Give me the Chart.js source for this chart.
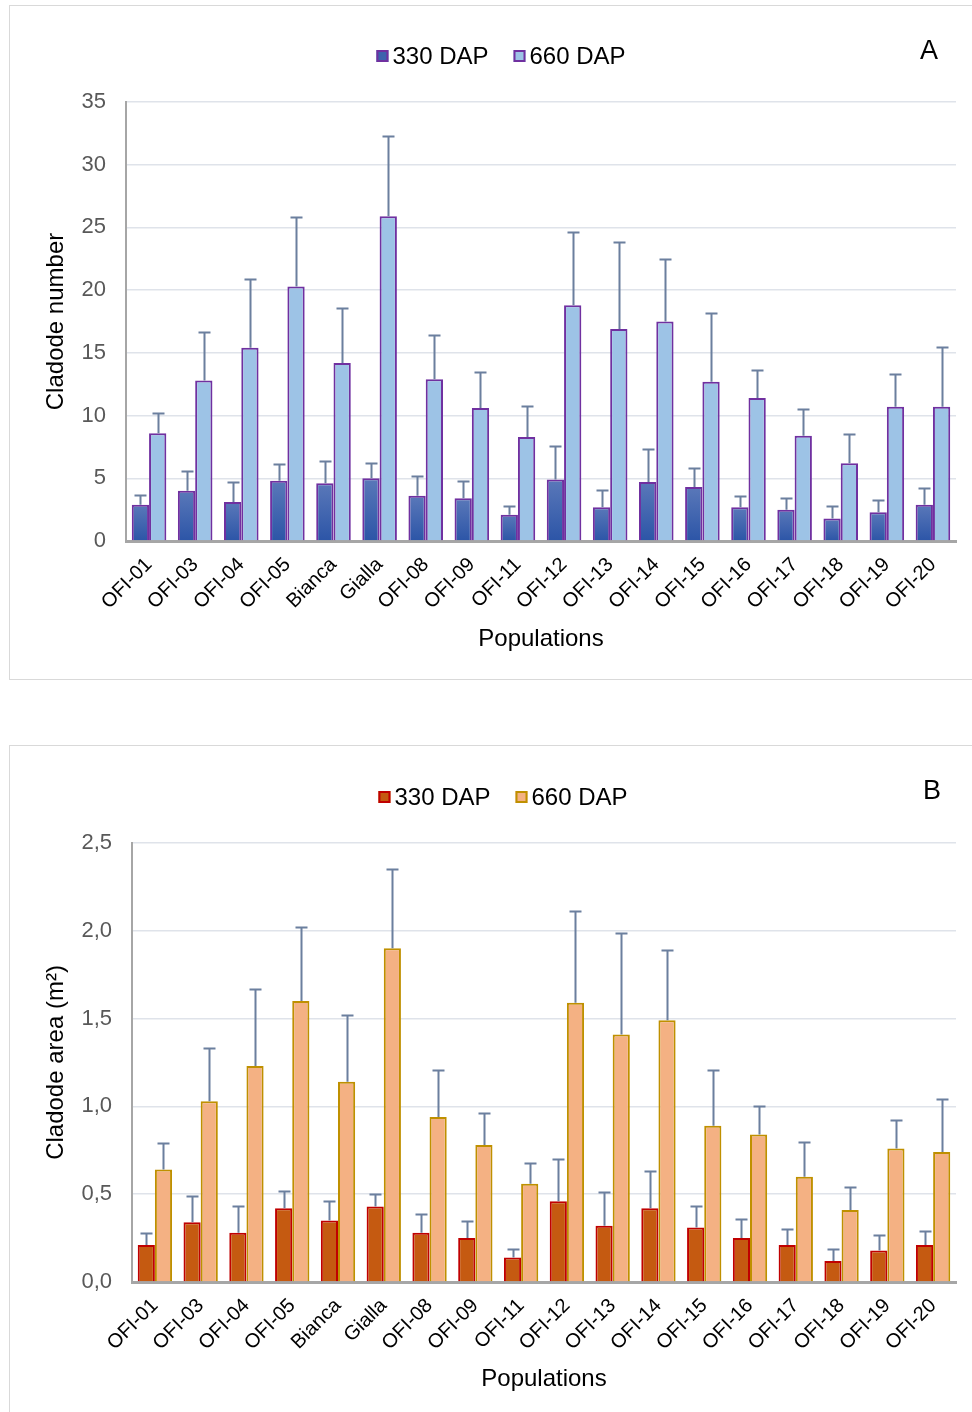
<!DOCTYPE html>
<html>
<head>
<meta charset="utf-8">
<script src="https://cdn.jsdelivr.net/npm/chart.js@4.4.1/dist/chart.umd.min.js"></script>
<style>
  html, body { margin: 0; padding: 0; background: #ffffff; width: 972px; height: 1412px; overflow: hidden; }
  .panel { position: absolute; border: 1px solid #d9d9d9; box-sizing: border-box; }
  .wrap { position: absolute; }
</style>
</head>
<body>
<div class="panel" style="left:9px; top:5px; width:990px; height:675px;"></div>
<div class="panel" style="left:9px; top:745px; width:990px; height:700px;"></div>
<div class="wrap" style="left:10px; top:6px; width:962px; height:673px;"><canvas id="chartA"></canvas></div>
<div class="wrap" style="left:10px; top:746px; width:962px; height:666px;"><canvas id="chartB"></canvas></div>
<script>
// ---------- data ----------
const populations = ["OFI-01","OFI-03","OFI-04","OFI-05","Bianca","Gialla","OFI-08","OFI-09","OFI-11","OFI-12","OFI-13","OFI-14","OFI-15","OFI-16","OFI-17","OFI-18","OFI-19","OFI-20"];
const seriesNames = ["330 DAP", "660 DAP"];

// Panel A: cladode number (mean and upper error)
const numberMean330 = [2.9, 4.0, 3.1, 4.8, 4.6, 5.0, 3.6, 3.4, 2.1, 4.9, 2.7, 4.7, 4.3, 2.7, 2.5, 1.8, 2.3, 2.9];
const numberErr330  = [0.8, 1.6, 1.6, 1.3, 1.8, 1.2, 1.6, 1.4, 0.7, 2.7, 1.4, 2.6, 1.5, 0.9, 0.9, 1.0, 1.0, 1.3];
const numberMean660 = [8.6, 12.8, 15.4, 20.3, 14.2, 25.9, 12.9, 10.6, 8.3, 18.8, 16.9, 17.5, 12.7, 11.4, 8.4, 6.2, 10.7, 10.7];
const numberErr660  = [1.6, 3.9, 5.5, 5.5, 4.4, 6.4, 3.5, 2.9, 2.5, 5.8, 6.9, 5.0, 5.5, 2.2, 2.1, 2.3, 2.6, 4.8];
const numberTicks = [0, 5, 10, 15, 20, 25, 30, 35];

// Panel B: cladode area m2 (mean and upper error)
const areaMean330 = [0.21, 0.34, 0.28, 0.42, 0.35, 0.43, 0.28, 0.25, 0.14, 0.46, 0.32, 0.42, 0.31, 0.25, 0.21, 0.12, 0.18, 0.21];
const areaErr330  = [0.07, 0.15, 0.15, 0.10, 0.11, 0.07, 0.11, 0.10, 0.05, 0.24, 0.19, 0.21, 0.12, 0.11, 0.09, 0.07, 0.09, 0.08];
const areaMean660 = [0.64, 1.03, 1.23, 1.60, 1.14, 1.90, 0.94, 0.78, 0.56, 1.59, 1.41, 1.49, 0.89, 0.84, 0.60, 0.41, 0.76, 0.74];
const areaErr660  = [0.15, 0.30, 0.44, 0.42, 0.38, 0.45, 0.27, 0.18, 0.12, 0.52, 0.58, 0.40, 0.32, 0.16, 0.20, 0.13, 0.16, 0.30];
const areaTicks = ["0,0", "0,5", "1,0", "1,5", "2,0", "2,5"];

// ---------- helpers ----------
const FONT = '"Liberation Sans", Arial, sans-serif';

const errorBarPlugin = {
  id: 'errorBars',
  afterDatasetsDraw(chart) {
    const ctx = chart.ctx;
    const yScale = chart.scales.y;
    ctx.save();
    ctx.strokeStyle = '#6b7f9e';
    ctx.lineWidth = 2;
    chart.data.datasets.forEach((ds, i) => {
      const meta = chart.getDatasetMeta(i);
      meta.data.forEach((bar, j) => {
        const topVal = ds.data[j] + ds.errUp[j];
        const yTop = Math.round(yScale.getPixelForValue(topVal)) + 0.5;
        const x = Math.round(bar.x) + 0.5;
        ctx.beginPath();
        ctx.moveTo(x, bar.y);
        ctx.lineTo(x, yTop);
        ctx.moveTo(x - 6, yTop);
        ctx.lineTo(x + 6, yTop);
        ctx.stroke();
      });
    });
    ctx.restore();
  }
};

const legendPlugin = {
  id: 'customLegend',
  afterDraw(chart, args, opts) {
    const ctx = chart.ctx;
    ctx.save();
    ctx.font = '24px ' + FONT;
    ctx.textBaseline = 'middle';
    const box = 12, gapText = 4, gapItem = 25;
    const items = chart.data.datasets.map(ds => ({
      text: ds.label, fill: ds.legendFill, stroke: ds.borderColor,
      w: box + gapText + ctx.measureText(ds.label).width
    }));
    const total = items.reduce((s, it) => s + it.w, 0) + gapItem * (items.length - 1);
    let x = opts.cx - total / 2;
    items.forEach(it => {
      ctx.fillStyle = it.fill;
      ctx.fillRect(x, opts.cy - box / 2, box, box);
      ctx.strokeStyle = it.stroke;
      ctx.lineWidth = 2;
      ctx.strokeRect(x + 1, opts.cy - box / 2 + 1, box - 2, box - 2);
      ctx.fillStyle = '#000000';
      ctx.textAlign = 'left';
      ctx.fillText(it.text, x + box + gapText, opts.cy + 1);
      x += it.w + gapItem;
    });
    ctx.font = '27px ' + FONT;
    ctx.textAlign = 'center';
    ctx.fillText(opts.letter, opts.lx, opts.ly);
    ctx.restore();
  }
};

function makeOptions(cfg) {
  return {
    responsive: true,
    maintainAspectRatio: false,
    animation: false,
    layout: { padding: { top: cfg.padTop, left: 28, right: 16, bottom: cfg.padBottom } },
    plugins: {
      legend: { display: false },
      tooltip: { enabled: false },
      customLegend: { cx: cfg.legendX, cy: cfg.legendY, letter: cfg.letter, lx: cfg.letterX, ly: cfg.letterY }
    },
    datasets: { bar: { categoryPercentage: 0.75, barPercentage: 1.0 } },
    scales: {
      x: {
        grid: { display: false, drawTicks: false },
        border: { display: true, color: '#a6a6a6', width: 3 },
        ticks: { autoSkip: false, maxRotation: 45, minRotation: 45, padding: 12, color: '#000000', font: { family: FONT, size: 20 } },
        title: { display: true, text: 'Populations', color: '#000000', font: { family: FONT, size: 24 }, padding: { top: 4, bottom: 4 } },
        afterFit(scale) { scale.height = cfg.xHeight; }
      },
      y: {
        min: 0, max: cfg.yMax,
        grid: { color: '#dfe3ea', lineWidth: 1.5, drawTicks: false },
        border: { display: true, color: '#a6a6a6', width: 2 },
        ticks: { stepSize: cfg.step, padding: 20, color: '#595959', font: { family: FONT, size: 22 }, callback: cfg.tickCb },
        title: { display: true, text: cfg.yTitle, color: '#000000', font: { family: FONT, size: 24 }, padding: { top: 4, bottom: 4 } },
        afterFit(scale) { scale.width = cfg.yWidth; }
      }
    }
  };
}

function gradientFill(context) {
  const chart = context.chart;
  if (!chart.chartArea || context.raw === undefined) return '#3d62ad';
  const y = chart.scales.y;
  const top = y.getPixelForValue(context.raw);
  const bottom = y.getPixelForValue(0);
  if (!isFinite(top) || bottom - top < 1) return '#3d62ad';
  const g = chart.ctx.createLinearGradient(0, top, 0, bottom);
  g.addColorStop(0, '#5a78b9');
  g.addColorStop(1, '#2c55a7');
  return g;
}

// ---------- chart A ----------
new Chart(document.getElementById('chartA'), {
  type: 'bar',
  data: {
    labels: populations,
    datasets: [
      { label: seriesNames[0], data: numberMean330, errUp: numberErr330, backgroundColor: gradientFill, legendFill: '#3d62ad', borderColor: '#7030a0', borderWidth: 2 },
      { label: seriesNames[1], data: numberMean660, errUp: numberErr660, backgroundColor: '#9dc3e6', legendFill: '#9dc3e6', borderColor: '#7030a0', borderWidth: 2 }
    ]
  },
  options: makeOptions({
    padTop: 96, padBottom: 21, xHeight: 117, yWidth: 88, yMax: 35, step: 5,
    yTitle: 'Cladode number',
    tickCb: (v) => numberTicks.includes(v) ? String(v) : '',
    legendX: 491, legendY: 50, letter: 'A', letterX: 919, letterY: 46
  }),
  plugins: [errorBarPlugin, legendPlugin]
});

// ---------- chart B ----------
new Chart(document.getElementById('chartB'), {
  type: 'bar',
  data: {
    labels: populations,
    datasets: [
      { label: seriesNames[0], data: areaMean330, errUp: areaErr330, backgroundColor: '#c55a11', legendFill: '#c55a11', borderColor: '#c00000', borderWidth: 2 },
      { label: seriesNames[1], data: areaMean660, errUp: areaErr660, backgroundColor: '#f4b183', legendFill: '#f4b183', borderColor: '#bf9000', borderWidth: 2 }
    ]
  },
  options: makeOptions({
    padTop: 97, padBottom: 14, xHeight: 116, yWidth: 94, yMax: 2.5, step: 0.5,
    yTitle: 'Cladode area (m²)',
    tickCb: (v) => { const i = Math.round(v / 0.5); return Math.abs(v - i * 0.5) < 1e-6 ? areaTicks[i] : ''; },
    legendX: 493, legendY: 51, letter: 'B', letterX: 922, letterY: 46
  }),
  plugins: [errorBarPlugin, legendPlugin]
});
</script>
</body>
</html>
